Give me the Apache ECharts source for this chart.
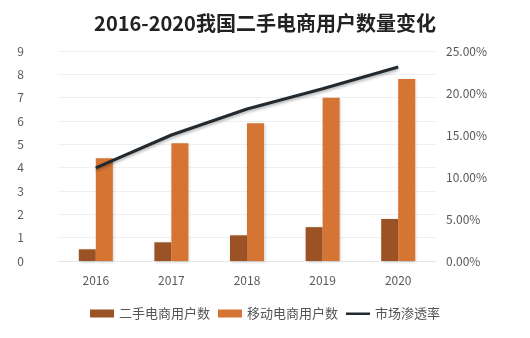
<!DOCTYPE html>
<html><head><meta charset="utf-8">
<script src="https://cdn.jsdelivr.net/npm/echarts@6/dist/echarts.min.js"></script>
<style>html,body{margin:0;padding:0;background:#fff}#c{width:530px;height:338px}</style>
</head><body><div id="c"></div>
<script>
const years = ['2016','2017','2018','2019','2020'];
const secondHandUsers = [0.5, 0.8, 1.1, 1.45, 1.8];
const mobileUsers = [4.4, 5.05, 5.9, 7.0, 7.8];
const penetration = [0.111, 0.15, 0.181, 0.205, 0.231];
const leftTicks = [0, 9, 1];
const rightTicks = [0, 0.25, 0.05];

const chart = echarts.init(document.getElementById('c'));
const font = '"Noto Sans CJK SC", "Noto Sans", sans-serif';
chart.setOption({
  animation: false,
  title: {
    text: '2016-2020我国二手电商用户数量变化',
    left: 'center', top: 8,
    textStyle: { fontSize: 20, fontWeight: 'bold', color: '#222', fontFamily: font }
  },
  grid: { left: 58, right: 94, top: 51, bottom: 77 },
  legend: {
    bottom: 13, left: 'center', itemWidth: 24, itemHeight: 8, itemGap: 8,
    textStyle: { fontSize: 13, color: '#555', fontFamily: font },
    data: [
      { name: '二手电商用户数', icon: 'rect' },
      { name: '移动电商用户数', icon: 'rect' },
      { name: '市场渗透率', icon: 'path://M0,0 L0.01,0 Z M0,3 L24,3 L24,5.5 L0,5.5 Z M0,8 L0.01,8 Z' }
    ]
  },
  xAxis: {
    type: 'category', data: years,
    axisLine: { lineStyle: { color: '#e6e6e6' } },
    axisTick: { show: false },
    axisLabel: { color: '#595959', fontSize: 12, margin: 13, fontFamily: font }
  },
  yAxis: [{
    type: 'value', min: leftTicks[0], max: leftTicks[1], interval: leftTicks[2],
    axisLabel: { color: '#595959', fontSize: 12, margin: 34, fontFamily: font },
    splitLine: { lineStyle: { color: '#f0f0f0' } }
  }, {
    type: 'value', min: rightTicks[0], max: rightTicks[1], interval: rightTicks[2],
    axisLabel: { color: '#595959', fontSize: 12, margin: 10, fontFamily: font,
      formatter: v => (v * 100).toFixed(2) + '%' },
    splitLine: { show: false }
  }],
  series: [{
    name: '二手电商用户数', type: 'bar', data: secondHandUsers, barWidth: 17, barGap: '0%',
    itemStyle: { color: '#9b5224', shadowColor: 'rgba(0,0,0,0.2)', shadowBlur: 3, shadowOffsetX: 1, shadowOffsetY: 1 }
  }, {
    name: '移动电商用户数', type: 'bar', data: mobileUsers, barWidth: 17,
    itemStyle: { color: '#d57433', shadowColor: 'rgba(0,0,0,0.2)', shadowBlur: 3, shadowOffsetX: 1, shadowOffsetY: 1 }
  }, {
    name: '市场渗透率', type: 'line', yAxisIndex: 1, data: penetration,
    symbol: 'none', itemStyle: { color: '#222a30' },
    lineStyle: { color: '#222a30', width: 3, shadowColor: 'rgba(0,0,0,0.3)', shadowBlur: 3, shadowOffsetY: 2 }
  }]
});
</script></body></html>
